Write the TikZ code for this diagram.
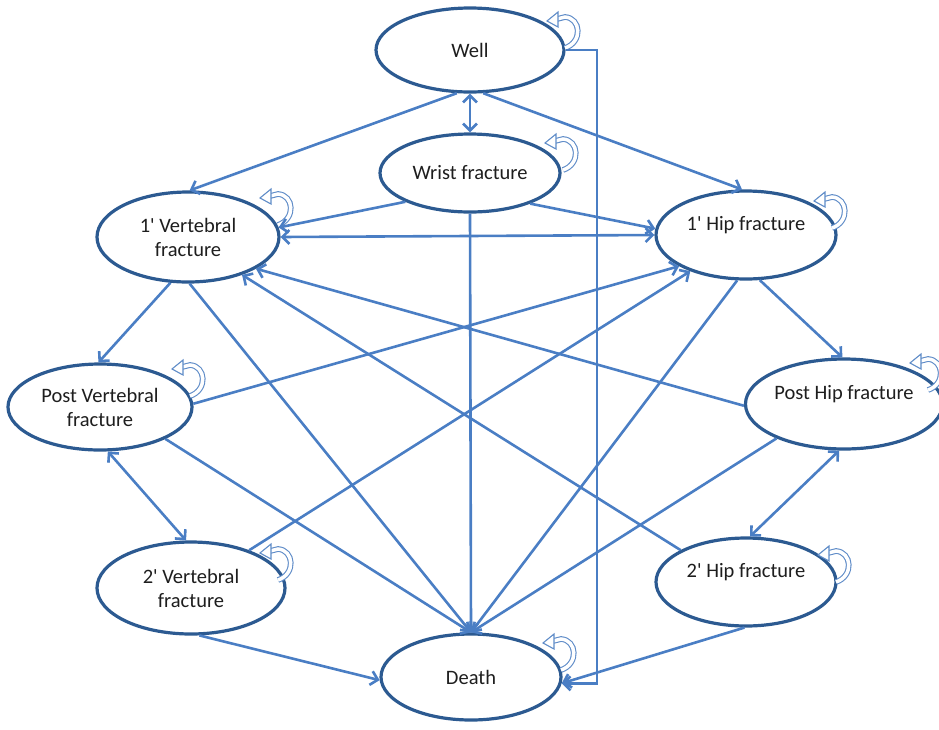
\documentclass[tikz,border=0pt]{standalone}
\usepackage{fontspec}
\setmainfont{Carlito}
\usetikzlibrary{shapes.geometric,arrows.meta}
\definecolor{edgec}{RGB}{74,126,196}
\definecolor{nodec}{RGB}{44,90,145}
\definecolor{loopc}{RGB}{95,140,200}
\definecolor{txtc}{RGB}{30,30,30}
\begin{document}
\begin{tikzpicture}[x=1pt,y=-1pt,
  state/.style={ellipse, draw=nodec, line width=3.2pt, fill=white, inner sep=0pt,
    align=center, font=\fontsize{20.5}{24}\selectfont, text=txtc},
  barb/.tip={Straight Barb[length=7pt,width=14pt]},
  conn/.style={draw=edgec, line width=2.6pt, -barb},
  bconn/.style={draw=edgec, line width=2.6pt, barb-barb},
  selfloop/.pic={
    \draw[draw=loopc, line width=1.1pt, double=white, double distance=3.5pt]
      (0,0) .. controls (18,-6) and (16,-30) .. (0,-31) -- (-8,-29);
    \draw[draw=loopc, line width=1.1pt, fill=white]
      (-7,-36) -- (-18,-27) -- (-7,-21) -- cycle;
  }]
\useasboundingbox (0,0) rectangle (939,729);

% states
\node[state, minimum width=188pt, minimum height=84pt] (well) at (470,50) {Well};
\node[state, minimum width=180pt, minimum height=78pt] (wrist) at (470,173) {Wrist fracture};
\node[state, minimum width=182pt, minimum height=90pt] (v1) at (188,237) {1\textquotesingle\ Vertebral\\fracture};
\node[state, minimum width=180pt, minimum height=88pt] (h1) at (746,235) {1\textquotesingle\ Hip fracture\\\mbox{}};
\node[state, minimum width=184pt, minimum height=86pt] (pv) at (100,407) {Post Vertebral\\fracture};
\node[state, minimum width=176pt, minimum height=90pt] (ph) at (844,404) {Post Hip fracture\\\mbox{}};
\node[state, minimum width=188pt, minimum height=92pt] (v2) at (191,588) {2\textquotesingle\ Vertebral\\fracture};
\node[state, minimum width=180pt, minimum height=88pt] (h2) at (746,582) {2\textquotesingle\ Hip fracture\\\mbox{}};
\node[state, minimum width=180pt, minimum height=86pt] (death) at (471,677) {Death};

% self loops
\pic at (565,48) {selfloop};
\pic at (563,170) {selfloop};
\pic at (278,225) {selfloop};
\pic at (832,228) {selfloop};
\pic at (190,396) {selfloop};
\pic at (928,390) {selfloop};
\pic at (278,580) {selfloop};
\pic at (836,582) {selfloop};
\pic at (561,670) {selfloop};

% connectors
\coordinate (rt) at (597,50);
\draw[conn] (well.253) -- (v1.88);
\draw[conn] (well.287) -- (h1.95);
\draw[bconn] (well.270) -- (wrist.90);
\draw[conn] (well.east) -- (rt) |- (death.-4);
\draw[conn] (wrist.204) -- (v1.6);
\draw[conn] (wrist.333) -- (h1.176);
\draw[conn] (wrist.270) -- (death.90);
\draw[bconn] (v1.0) -- (h1.180);
\draw[conn] (v1.249) -- (pv.92);
\draw[conn] (v1.272) -- (death.90);
\draw[conn] (h1.287) -- (ph.92);
\draw[conn] (h1.259) -- (death.90);
\draw[bconn] (pv.280) -- (v2.96);
\draw[bconn] (ph.264) -- (h2.85);
\draw[conn] (pv.2) -- (h1.205);
\draw[conn] (pv.334) -- (death.90);
\draw[conn] (ph.181) -- (v1.335);
\draw[conn] (ph.207) -- (death.90);
\draw[conn] (v2.33) -- (h1.213);
\draw[conn] (h2.154) -- (v1.325);
\draw[conn] (v2.280) -- (death.182);
\draw[conn] (h2.268) -- (death.-4);
\end{tikzpicture}
\end{document}
